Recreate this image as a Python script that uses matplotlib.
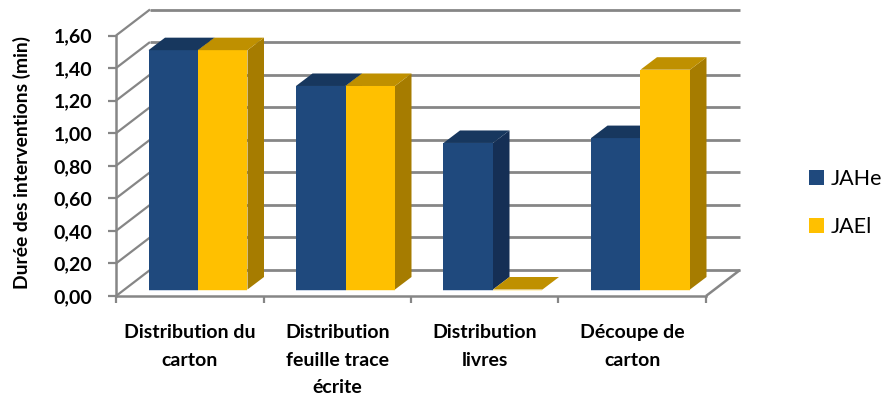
import matplotlib
matplotlib.use('Agg')
import matplotlib.pyplot as plt
from matplotlib.patches import Polygon, Patch

categories = ['Distribution du\ncarton', 'Distribution\nfeuille trace\nécrite', 'Distribution\nlivres', 'Découpe de\ncarton']
series_names = ['JAHe', 'JAEl']
jahe = [1.47, 1.25, 0.90, 0.93]
jael = [1.47, 1.25, 0.00, 1.35]
y_ticks = [0.0, 0.2, 0.4, 0.6, 0.8, 1.0, 1.2, 1.4, 1.6]

W, H = 885, 394
GRID = '#868686'
# face, top, side
BLUE = ('#1F497D', '#17375E', '#152F55')
GOLD = ('#FFC000', '#BF9000', '#A67C00')
STRIPS = ('#C9D5E6', '#FFF2C6')

plt.rcParams['font.family'] = ['Lato', 'DejaVu Sans']

fig = plt.figure(figsize=(W / 100, H / 100), dpi=100)
ax = fig.add_axes([116 / W, 1 - 296 / H, 590 / W, 260.5 / H])
ax.set_xlim(0, 4)
ax.set_ylim(0, 1.6)

# px -> data units for the fake 3d depth
px_x = 4 / 590
px_y = 1.6 / 260.5
wall_dx, wall_dy = 34 * px_x, 26 * px_y
bar_dx, bar_dy = 16.5 * px_x, 12.5 * px_y
base = 6.5 * px_y
bar_w = 49.5 * px_x
bar_start = 32.5 * px_x


def line(xs, ys, lw=2.0):
    ax.plot(xs, ys, color=GRID, lw=lw, clip_on=False, zorder=1, solid_capstyle='butt')


# back wall, left wall and floor
for v in y_ticks:
    line([0, wall_dx], [v, v + wall_dy], lw=1.6)
    line([wall_dx, 4 + wall_dx], [v + wall_dy, v + wall_dy])
line([4, 4 + wall_dx], [0, wall_dy], lw=1.8)


def draw_bar(x, value, colors, strip):
    top = base + value
    x2 = x + bar_w
    if value > 0:
        ax.add_patch(Polygon([(x2, base), (x2 + bar_dx, base + bar_dy), (x2 + bar_dx, top + bar_dy), (x2, top)],
                             fc=colors[2], ec='none', clip_on=False, zorder=3))
        ax.add_patch(Polygon([(x, base), (x2, base), (x2, top), (x, top)],
                             fc=colors[0], ec='none', clip_on=False, zorder=3))
    ax.add_patch(Polygon([(x, top), (x2, top), (x2 + bar_dx, top + bar_dy), (x + bar_dx, top + bar_dy)],
                         fc=colors[1], ec='none', clip_on=False, zorder=3))
    ax.add_patch(Polygon([(x, base), (x2, base), (x2, base - 1.6 * px_y), (x, base - 1.6 * px_y)],
                         fc=strip, ec='none', clip_on=False, zorder=3))


for i in range(len(categories)):
    x0 = i + bar_start
    draw_bar(x0, jahe[i], BLUE, STRIPS[0])
    draw_bar(x0 + bar_w, jael[i], GOLD, STRIPS[1])

for side in ['top', 'right']:
    ax.spines[side].set_visible(False)
for side in ['left', 'bottom']:
    ax.spines[side].set_color(GRID)
    ax.spines[side].set_linewidth(1.8)
    ax.spines[side].set_zorder(2)

ax.set_yticks(y_ticks)
ax.yaxis.set_major_formatter(plt.FuncFormatter(lambda v, p: ('%.2f' % v).replace('.', ',')))
ax.tick_params(axis='y', length=6, width=1.6, color=GRID, pad=11, labelsize=14)
for t in ax.get_yticklabels():
    t.set_fontweight('bold')

ax.set_xticks(range(5))
ax.set_xticklabels([])
ax.tick_params(axis='x', which='major', length=5, width=1.6, color=GRID)
ax.set_xticks([i + 0.5 for i in range(4)], minor=True)
ax.set_xticklabels(categories, minor=True, fontweight='bold', fontsize=14, linespacing=1.72, va='top')
ax.tick_params(axis='x', which='minor', length=0, pad=20.5)

fig.text(22 / W, 1 - 162.5 / H, 'Durée des interventions (min)', rotation=90, ha='center', va='center',
         fontweight='bold', fontsize=13.9)

handles = [Patch(fc=BLUE[0], label=series_names[0]), Patch(fc=GOLD[0], label=series_names[1])]
fig.legend(handles=handles, loc='center left', bbox_to_anchor=(809 / W, 1 - 203 / H), frameon=False,
           fontsize=15.5, handlelength=0.7, handleheight=0.7, handletextpad=0.3, labelspacing=1.3,
           borderpad=0, borderaxespad=0)

plt.savefig('out.png', dpi=100)
plt.close()
